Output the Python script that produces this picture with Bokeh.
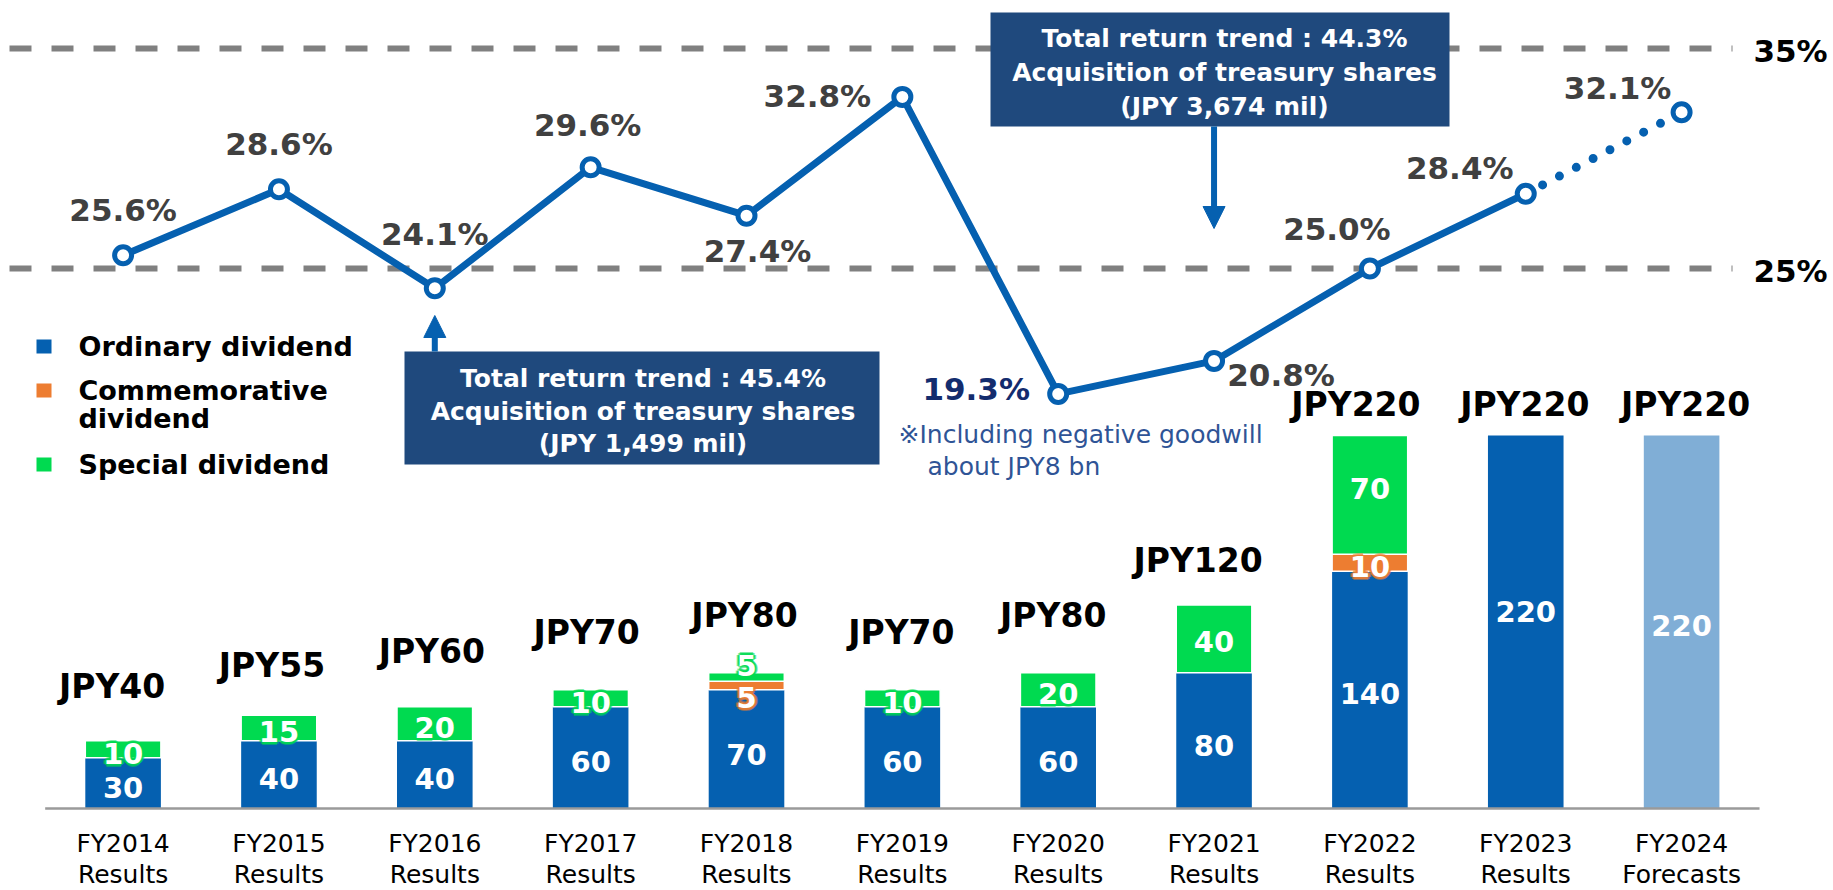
from bokeh.plotting import figure
from bokeh.models import Range1d, Arrow, NormalHead
from bokeh.core.properties import value
from bokeh.embed import file_html
from bokeh.resources import INLINE

# ---------------- data ----------------
categories = ["FY2014", "FY2015", "FY2016", "FY2017", "FY2018", "FY2019",
              "FY2020", "FY2021", "FY2022", "FY2023", "FY2024"]
periods = ["Results"] * 10 + ["Forecasts"]
ordinary = [30, 40, 40, 60, 70, 60, 60, 80, 140, 220, 220]
commemorative = [0, 0, 0, 0, 5, 0, 0, 0, 10, 0, 0]
special = [10, 15, 20, 10, 5, 10, 20, 40, 70, 0, 0]
payout_ratio = [25.6, 28.6, 24.1, 29.6, 27.4, 32.8, 19.3, 20.8, 25.0, 28.4, 32.1]
reference_levels = [25, 35]
series_names = ["Ordinary dividend", "Commemorative\ndividend", "Special dividend"]
buyback_years = ["FY2016", "FY2021"]
buyback_notes = [
    ["Total return trend : 45.4%", "Acquisition of treasury shares", "(JPY 1,499 mil)"],
    ["Total return trend : 44.3%", "Acquisition of treasury shares", "(JPY 3,674 mil)"],
]
footnote = ["※Including negative goodwill", "about JPY8 bn"]

# ---------------- layout / style ----------------
W, H = 1833, 890
PAD = 0
X0, XSTEP = 122.6, 155.85      # first category centre (px) and spacing
BASE, YS = 808.0, 1.6955       # zero-JPY line (px from top) and px per JPY
P25, PS = 268.0, 22.0          # 25% line (px from top) and px per %
BW = 0.485
FONT = value("DejaVu Sans")
BLUE, LIGHT, ORANGE, GREEN = "#0560B0", "#80AED6", "#ED7D31", "#00DA50"
BOX = "#1F497D"
GRAY_TXT = "#404040"
NAVY_TXT = "#132C6E"
NOTE_TXT = "#2F5496"


def fx(px):
    return (px - PAD - X0) / XSTEP


def fy(py):
    return (BASE - (py - PAD)) / YS


p = figure(width=W, height=H, title=None,
           x_range=Range1d(-X0 / XSTEP, (W - X0) / XSTEP),
           y_range=Range1d(-(H - BASE) / YS, BASE / YS),
           x_axis_location=None, y_axis_location=None,
           output_backend="svg", toolbar_location=None, min_border=0,
           outline_line_color=None, background_fill_color="white",
           border_fill_color="white")
p.grid.visible = False
p.extra_y_ranges = {"pct": Range1d(25 - (H - P25) / PS, 25 + P25 / PS)}

n = len(categories)
idx = list(range(n))


def txt(fs, dy=0, **kw):
    """Centred text at y (+dy px, downward)."""
    base = dict(text_font=FONT, text_align="center", text_baseline="middle",
                text_font_size=f"{fs}px", y_offset=dy)
    base.update(kw)
    return p.text(**base)


# reference dashed lines
p.segment(x0=fx(9), x1=fx(1732), y0=reference_levels, y1=reference_levels,
          y_range_name="pct", line_color="#808080", line_width=6, line_dash="22 20")
txt(31, 2, x=fx(1790), y=reference_levels, text=[f"{v}%" for v in reference_levels],
    y_range_name="pct", text_font_style="bold", text_color="black")

# ---------------- bars ----------------
ord_colors = [LIGHT if per == "Forecasts" else BLUE for per in periods]
comm_top = [o + c for o, c in zip(ordinary, commemorative)]
totals = [t + s for t, s in zip(comm_top, special)]

p.vbar(x=idx, width=BW, bottom=0, top=ordinary, fill_color=ord_colors, line_color=None)
ci = [i for i in idx if commemorative[i] > 0]
p.vbar(x=ci, width=BW, bottom=[ordinary[i] for i in ci], top=[comm_top[i] for i in ci],
       fill_color=ORANGE, line_color="white", line_width=1.5)
si = [i for i in idx if special[i] > 0]
p.vbar(x=si, width=BW, bottom=[comm_top[i] for i in si], top=[totals[i] for i in si],
       fill_color=GREEN, line_color="white", line_width=1.5)

p.segment(x0=-0.5, x1=n - 0.5, y0=0, y1=0, line_color="#9A9A9A", line_width=2.5)

# category labels
txt(25, x=idx, y=fy(843), text=categories, text_color="black")
txt(25, x=idx, y=fy(874), text=periods, text_color="black")

# segment labels
ord_dy = [4, 4, 4, 4, 5, 4, 4, 5, 4, -10, 4]
spec_dy = [4, 4, 4, 4, -12, 4, 4, 3, -6, 0, 0]
comm_dy = [0, 0, 0, 0, 12, 0, 0, 0, 4, 0, 0]
GLOW = [(-2, 0), (2, 0), (0, -2), (0, 2), (-1.5, -1.5), (1.5, -1.5), (-1.5, 1.5),
        (1.5, 1.5), (-3, 0), (3, 0), (0, -3), (0, 3)]


def seg_labels(xs, ys, texts, dys, glow=None):
    if glow:
        for gx, gy in GLOW:
            txt(29, [d + gy for d in dys], x=xs, y=ys, text=texts, x_offset=gx,
                text_font_style="bold", text_color=glow, text_alpha=0.5)
    txt(29, dys, x=xs, y=ys, text=texts, text_font_style="bold", text_color="white")


seg_labels(idx, [o / 2 for o in ordinary], [str(v) for v in ordinary], ord_dy)
seg_labels(si, [comm_top[i] + special[i] / 2 for i in si], [str(special[i]) for i in si],
           [spec_dy[i] for i in si], GREEN)
seg_labels(ci, [ordinary[i] + commemorative[i] / 2 for i in ci],
           [str(commemorative[i]) for i in ci], [comm_dy[i] for i in ci], ORANGE)

# total labels
jpy_dx = [-11, -7, -3, -4, -2, -1, -5, -16, -14, -1, 4]
jpy_dy = [-54, -50, -55, -57, -57, -57, -57, -45, -31, -31, -31]
txt(33, jpy_dy, x=idx, y=totals, text=[f"JPY{v}" for v in totals], x_offset=jpy_dx,
    text_font_style="bold", text_color="black")

# ---------------- payout ratio line ----------------
res_i = [i for i in idx if periods[i] == "Results"]
fc_i = [res_i[-1]] + [i for i in idx if periods[i] == "Forecasts"]
p.line(x=res_i, y=[payout_ratio[i] for i in res_i], y_range_name="pct",
       line_color=BLUE, line_width=7, line_join="round")
p.line(x=fc_i, y=[payout_ratio[i] for i in fc_i], y_range_name="pct",
       line_color=BLUE, line_width=9, line_dash="0 19", line_cap="round")
p.scatter(x=idx, y=payout_ratio, y_range_name="pct", marker="circle", size=17,
          fill_color="white", line_color=BLUE, line_width=5)

pct_dx = [0, 0, 0, -3, 11, -85, -82, 67, -33, -66, -64]
pct_dy = [-45, -45, -54, -42, 35, -1, -5, 14, -40, -26, -24]
pct_col = [GRAY_TXT] * 6 + [NAVY_TXT] + [GRAY_TXT] * 4
txt(31, pct_dy, x=idx, y=payout_ratio, y_range_name="pct",
    text=[f"{v:.1f}%" for v in payout_ratio], x_offset=pct_dx,
    text_font_style="bold", text_color=pct_col)

# footnote
txt(25, x=[fx(898), fx(927)], y=[fy(434), fy(466)], text=footnote, text_align="left",
    text_color=NOTE_TXT)

# ---------------- buyback boxes ----------------
box_l, box_r = [404, 990], [879, 1449]
box_t, box_b = [351, 12], [464, 126]
box_cx = [642.5, 1224]
p.quad(left=[fx(v) for v in box_l], right=[fx(v) for v in box_r],
       top=[fy(v) for v in box_t], bottom=[fy(v) for v in box_b],
       fill_color=BOX, line_color=None)
line_y = [[378, 411, 443], [38, 72, 106]]
for k, lines in enumerate(buyback_notes):
    txt(25, x=[fx(box_cx[k])] * len(lines), y=[fy(v) for v in line_y[k]], text=lines,
        text_font_style="bold", text_color="white")

arrow_from = [351, 126]
arrow_to = [315, 228]
for k, yr in enumerate(buyback_years):
    ax = categories.index(yr)
    p.add_layout(Arrow(end=NormalHead(size=22, fill_color=BLUE, line_color=BLUE),
                       x_start=ax, y_start=fy(arrow_from[k]), x_end=ax,
                       y_end=fy(arrow_to[k]), line_color=BLUE, line_width=6))

# ---------------- legend ----------------
leg_y = [346, 390, 464]
p.rect(x=fx(43.5), y=[fy(v) for v in leg_y], width=15, height=14,
       width_units="screen", height_units="screen",
       fill_color=[BLUE, ORANGE, GREEN], line_color=None)
for k, name in enumerate(series_names):
    parts = name.split("\n")
    txt(27, x=[fx(78)] * len(parts), y=[fy(leg_y[k] + 28 * j) for j in range(len(parts))],
        text=parts, text_align="left", text_font_style="bold", text_color="black")

open("out.html", "w").write(file_html(p, INLINE))
